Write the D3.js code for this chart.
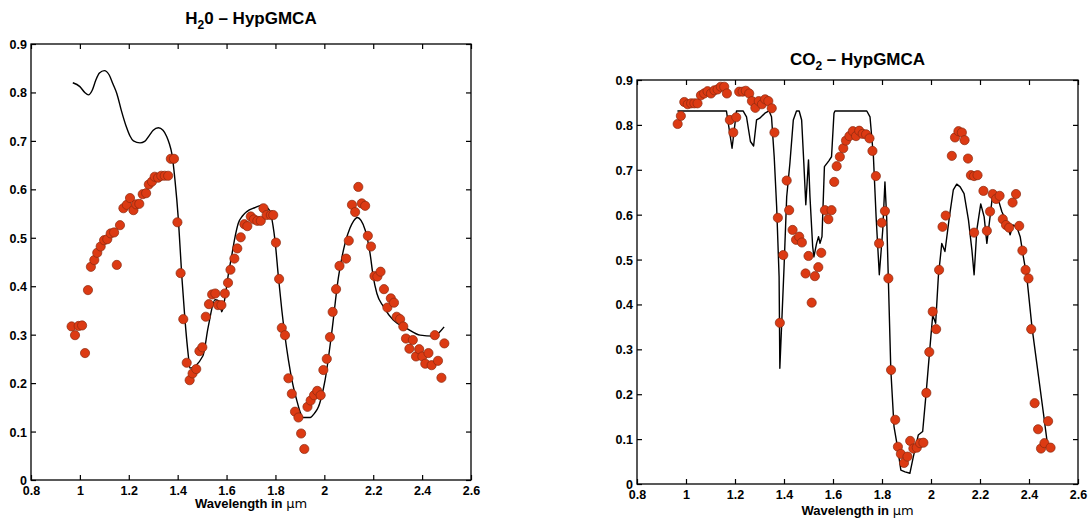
<!DOCTYPE html>
<html>
<head>
<meta charset="utf-8">
<script src="https://cdn.jsdelivr.net/npm/d3@7"></script>
<style>
  html, body { margin: 0; padding: 0; background: #ffffff; }
  svg { display: block; }
  text { font-family: "Liberation Sans", Arial, Helvetica, sans-serif; font-weight: bold; fill: #000; }
</style>
</head>
<body>
<svg id="chart" width="1090" height="521"></svg>
<script>
// ---------- data ----------
const xTickValues = [0.8, 1, 1.2, 1.4, 1.6, 1.8, 2, 2.2, 2.4, 2.6];
const yTickValues = [0, 0.1, 0.2, 0.3, 0.4, 0.5, 0.6, 0.7, 0.8, 0.9];
const xDomain = [0.8, 2.6];
const yDomain = [0, 0.9];
const xLabelText = "Wavelength in ";
const xLabelUnit = "\u03bcm";

// H2O panel: reference spectrum (line) and estimated spectrum (dots)
const h2oLine = [
  [0.971,0.820],[1.00,0.812],[1.02,0.800],[1.035,0.795],[1.05,0.804],[1.065,0.825],[1.08,0.840],[1.10,0.845],[1.12,0.836],
  [1.135,0.818],[1.151,0.798],[1.17,0.762],[1.19,0.729],[1.205,0.710],[1.219,0.700],[1.246,0.696],[1.265,0.699],
  [1.285,0.712],[1.30,0.722],[1.321,0.727],[1.34,0.722],[1.355,0.709],[1.366,0.694],[1.376,0.674],[1.389,0.619],
  [1.403,0.537],[1.417,0.42],[1.43,0.33],[1.444,0.255],[1.45,0.231],[1.503,0.256],[1.525,0.316],[1.553,0.372],
  [1.573,0.368],[1.58,0.347],[1.594,0.378],[1.606,0.42],[1.62,0.46],[1.634,0.50],[1.648,0.530],[1.665,0.545],[1.683,0.554],
  [1.715,0.562],[1.75,0.568],[1.765,0.563],[1.778,0.554],[1.79,0.525],[1.798,0.495],[1.812,0.42],[1.826,0.351],
  [1.853,0.248],[1.87,0.200],[1.887,0.165],[1.90,0.142],[1.912,0.129],[1.942,0.129],[1.96,0.138],[1.976,0.151],
  [1.99,0.175],[2.003,0.206],[2.03,0.303],[2.057,0.416],[2.085,0.489],[2.105,0.52],[2.12,0.535],[2.135,0.542],
  [2.15,0.536],[2.167,0.516],[2.187,0.468],[2.2,0.42],[2.215,0.385],[2.242,0.358],[2.282,0.33],[2.337,0.313],
  [2.392,0.299],[2.446,0.297],[2.473,0.306],[2.49,0.316]
];
const h2oDots = [
  [0.966,0.317],[0.980,0.299],[0.995,0.318],[1.009,0.319],[1.021,0.262],[1.033,0.392],[1.045,0.440],[1.059,0.454],
  [1.071,0.469],[1.085,0.482],[1.099,0.495],[1.112,0.497],[1.126,0.509],[1.140,0.511],[1.151,0.444],[1.164,0.526],
  [1.178,0.561],[1.192,0.568],[1.205,0.582],[1.219,0.557],[1.230,0.569],[1.243,0.570],[1.257,0.590],[1.271,0.592],
  [1.282,0.610],[1.295,0.616],[1.306,0.626],[1.320,0.624],[1.333,0.628],[1.347,0.628],[1.361,0.628],[1.372,0.663],
  [1.385,0.663],[1.399,0.532],[1.412,0.427],[1.423,0.332],[1.437,0.242],[1.449,0.206],[1.461,0.220],[1.476,0.229],
  [1.489,0.266],[1.501,0.274],[1.515,0.337],[1.528,0.363],[1.541,0.383],[1.554,0.385],[1.565,0.361],[1.579,0.361],
  [1.593,0.385],[1.606,0.407],[1.616,0.434],[1.632,0.457],[1.644,0.478],[1.658,0.501],[1.673,0.528],[1.685,0.524],
  [1.699,0.544],[1.712,0.538],[1.726,0.535],[1.740,0.535],[1.751,0.561],[1.764,0.547],[1.781,0.547],[1.791,0.547],
  [1.802,0.490],[1.815,0.415],[1.826,0.314],[1.839,0.299],[1.853,0.210],[1.867,0.178],[1.880,0.141],[1.894,0.129],
  [1.905,0.096],[1.918,0.064],[1.931,0.151],[1.944,0.164],[1.958,0.175],[1.971,0.184],[1.985,0.175],[1.996,0.227],
  [2.010,0.250],[2.023,0.295],[2.034,0.347],[2.048,0.394],[2.062,0.442],[2.089,0.457],[2.100,0.494],[2.113,0.568],
  [2.126,0.553],[2.139,0.605],[2.153,0.571],[2.167,0.566],[2.178,0.504],[2.191,0.482],[2.205,0.421],[2.217,0.420],
  [2.230,0.430],[2.244,0.394],[2.258,0.356],[2.272,0.375],[2.285,0.366],[2.296,0.337],[2.310,0.332],[2.323,0.317],
  [2.334,0.292],[2.348,0.271],[2.362,0.289],[2.375,0.255],[2.388,0.270],[2.401,0.255],[2.413,0.240],[2.426,0.262],
  [2.439,0.237],[2.452,0.299],[2.465,0.246],[2.479,0.211],[2.491,0.282]
];

// CO2 panel
const co2Line = [
  [0.965,0.831],[1.165,0.831],[1.188,0.748],[1.206,0.831],[1.233,0.831],[1.247,0.818],[1.263,0.763],[1.276,0.753],
  [1.288,0.811],[1.301,0.815],[1.322,0.826],[1.339,0.831],[1.349,0.818],[1.360,0.729],[1.370,0.618],[1.380,0.462],
  [1.383,0.258],[1.400,0.480],[1.411,0.640],[1.424,0.714],[1.438,0.811],[1.451,0.831],[1.462,0.831],[1.472,0.811],
  [1.481,0.714],[1.489,0.622],[1.500,0.722],[1.506,0.640],[1.517,0.529],[1.522,0.506],[1.533,0.536],[1.541,0.551],
  [1.547,0.536],[1.555,0.551],[1.565,0.707],[1.583,0.720],[1.594,0.729],[1.604,0.826],[1.608,0.831],[1.738,0.831],
  [1.751,0.818],[1.765,0.729],[1.776,0.595],[1.789,0.466],[1.803,0.566],[1.812,0.673],[1.819,0.595],[1.826,0.454],
  [1.836,0.254],[1.849,0.128],[1.863,0.083],[1.877,0.031],[1.894,0.027],[1.914,0.024],[1.928,0.061],[1.948,0.109],
  [1.966,0.117],[1.980,0.202],[1.996,0.306],[2.007,0.376],[2.019,0.358],[2.030,0.462],[2.044,0.536],[2.057,0.518],
  [2.075,0.595],[2.091,0.655],[2.105,0.668],[2.119,0.662],[2.135,0.647],[2.153,0.588],[2.167,0.521],[2.176,0.466],
  [2.187,0.566],[2.203,0.624],[2.217,0.595],[2.228,0.536],[2.241,0.595],[2.252,0.647],[2.269,0.644],[2.289,0.607],
  [2.310,0.581],[2.323,0.555],[2.334,0.577],[2.350,0.573],[2.364,0.551],[2.377,0.506],[2.391,0.462],[2.412,0.350],
  [2.439,0.239],[2.459,0.157],[2.475,0.090]
];
const co2Dots = [
  [0.966,0.802],[0.979,0.820],[0.993,0.851],[1.007,0.846],[1.021,0.848],[1.034,0.848],[1.047,0.848],[1.061,0.866],
  [1.074,0.870],[1.088,0.875],[1.102,0.870],[1.116,0.877],[1.129,0.879],[1.142,0.885],[1.156,0.885],[1.167,0.870],
  [1.179,0.811],[1.193,0.783],[1.205,0.817],[1.217,0.874],[1.231,0.874],[1.244,0.876],[1.258,0.870],[1.269,0.853],
  [1.283,0.838],[1.297,0.853],[1.310,0.846],[1.323,0.857],[1.336,0.853],[1.350,0.837],[1.361,0.783],[1.375,0.593],
  [1.383,0.359],[1.397,0.510],[1.411,0.676],[1.421,0.610],[1.435,0.566],[1.449,0.544],[1.462,0.551],[1.473,0.538],
  [1.488,0.469],[1.500,0.508],[1.513,0.404],[1.526,0.463],[1.540,0.483],[1.552,0.515],[1.567,0.610],[1.581,0.590],
  [1.594,0.610],[1.605,0.673],[1.615,0.708],[1.628,0.729],[1.642,0.748],[1.653,0.765],[1.667,0.775],[1.681,0.786],
  [1.694,0.775],[1.707,0.787],[1.721,0.780],[1.735,0.779],[1.749,0.770],[1.761,0.742],[1.775,0.686],[1.788,0.536],
  [1.799,0.582],[1.812,0.608],[1.826,0.458],[1.837,0.254],[1.854,0.143],[1.865,0.083],[1.877,0.067],[1.890,0.047],
  [1.904,0.061],[1.915,0.096],[1.928,0.079],[1.942,0.081],[1.955,0.091],[1.969,0.092],[1.981,0.203],[1.993,0.294],
  [2.007,0.384],[2.021,0.345],[2.033,0.477],[2.047,0.573],[2.060,0.598],[2.085,0.731],[2.098,0.772],[2.112,0.786],
  [2.126,0.783],[2.137,0.766],[2.151,0.725],[2.163,0.688],[2.176,0.686],[2.190,0.688],[2.214,0.653],[2.176,0.560],
  [2.228,0.564],[2.241,0.607],[2.252,0.646],[2.266,0.635],[2.280,0.642],[2.293,0.590],[2.306,0.577],[2.319,0.571],
  [2.333,0.627],[2.347,0.646],[2.360,0.575],[2.373,0.520],[2.386,0.477],[2.398,0.458],[2.409,0.345],[2.423,0.180],
  [2.437,0.122],[2.449,0.079],[2.463,0.091],[2.478,0.140],[2.488,0.081]
];

// ---------- drawing ----------
const svg = d3.select("#chart");

function fmt(d) { return String(+d.toFixed(1)); }

function drawPanel(opts) {
  const { left, right, top, bottom, titleMain, titleSub, titleRest, titleY,
          xLabY, tickLabY, line, dots, curve } = opts;
  const x = d3.scaleLinear().domain(xDomain).range([left, right]);
  const y = d3.scaleLinear().domain(yDomain).range([bottom, top]);
  const g = svg.append("g");

  // frame
  g.append("rect")
    .attr("x", left).attr("y", top)
    .attr("width", right - left).attr("height", bottom - top)
    .attr("fill", "none").attr("stroke", "#000").attr("stroke-width", 1.3);

  const tickLen = 5;
  // bottom axis (inward ticks with labels)
  const axB = g.append("g").attr("transform", `translate(0,${bottom})`)
    .call(d3.axisBottom(x).tickValues(xTickValues).tickFormat(fmt)
      .tickSizeInner(-tickLen).tickSizeOuter(0).tickPadding(0));
  axB.select(".domain").remove();
  axB.selectAll("line").attr("stroke", "#000").attr("stroke-width", 1.2);
  axB.selectAll("text").attr("y", tickLabY).attr("dy", null)
    .style("font-size", "12.5px").style("font-weight", "bold")
    .style("font-family", '"Liberation Sans", Arial, sans-serif').attr("fill", "#000");

  // top axis
  const axT = g.append("g").attr("transform", `translate(0,${top})`)
    .call(d3.axisTop(x).tickValues(xTickValues).tickFormat("")
      .tickSizeInner(-tickLen).tickSizeOuter(0));
  axT.select(".domain").remove();
  axT.selectAll("line").attr("stroke", "#000").attr("stroke-width", 1.2);

  // left axis
  const axL = g.append("g").attr("transform", `translate(${left},0)`)
    .call(d3.axisLeft(y).tickValues(yTickValues).tickFormat(fmt)
      .tickSizeInner(-tickLen).tickSizeOuter(0).tickPadding(4));
  axL.select(".domain").remove();
  axL.selectAll("line").attr("stroke", "#000").attr("stroke-width", 1.2);
  axL.selectAll("text").attr("x", -4).attr("dy", "0.36em")
    .style("font-size", "12.5px").style("font-weight", "bold")
    .style("font-family", '"Liberation Sans", Arial, sans-serif').attr("fill", "#000");

  // right axis
  const axR = g.append("g").attr("transform", `translate(${right},0)`)
    .call(d3.axisRight(y).tickValues(yTickValues).tickFormat("")
      .tickSizeInner(-tickLen).tickSizeOuter(0));
  axR.select(".domain").remove();
  axR.selectAll("line").attr("stroke", "#000").attr("stroke-width", 1.2);

  // line
  const lineGen = d3.line().x(d => x(d[0])).y(d => y(d[1])).curve(curve);
  g.append("path").datum(line)
    .attr("d", lineGen).attr("fill", "none")
    .attr("stroke", "#000").attr("stroke-width", 1.4)
    .attr("stroke-linejoin", "round");

  // dots
  g.append("g").selectAll("circle").data(dots).join("circle")
    .attr("cx", d => x(d[0])).attr("cy", d => y(d[1]))
    .attr("r", 4.6)
    .attr("fill", "#dc3a13").attr("stroke", "#8a2a10").attr("stroke-width", 0.7);

  // title
  const cx = (left + right) / 2;
  const t = g.append("text").attr("x", cx).attr("y", titleY)
    .attr("text-anchor", "middle").style("font-size", "17px");
  t.append("tspan").text(titleMain);
  t.append("tspan").text(titleSub).attr("dy", 5).style("font-size", "12px");
  t.append("tspan").text(titleRest).attr("dy", -5);

  // x label
  const xl = g.append("text").attr("x", cx).attr("y", xLabY)
    .attr("text-anchor", "middle").style("font-size", "13px");
  xl.append("tspan").text(xLabelText);
  xl.append("tspan").text(xLabelUnit).style("font-weight", "normal")
    .style("font-family", '"DejaVu Sans", sans-serif');
}

drawPanel({
  left: 31, right: 471, top: 44, bottom: 480,
  titleMain: "H", titleSub: "2", titleRest: "0 \u2013 HypGMCA", titleY: 24,
  tickLabY: 15, xLabY: 508,
  line: h2oLine, dots: h2oDots, curve: d3.curveMonotoneX
});

drawPanel({
  left: 637, right: 1078, top: 80, bottom: 484,
  titleMain: "CO", titleSub: "2", titleRest: " \u2013 HypGMCA", titleY: 65,
  tickLabY: 15, xLabY: 515,
  line: co2Line, dots: co2Dots, curve: d3.curveLinear
});
</script>
</body>
</html>
